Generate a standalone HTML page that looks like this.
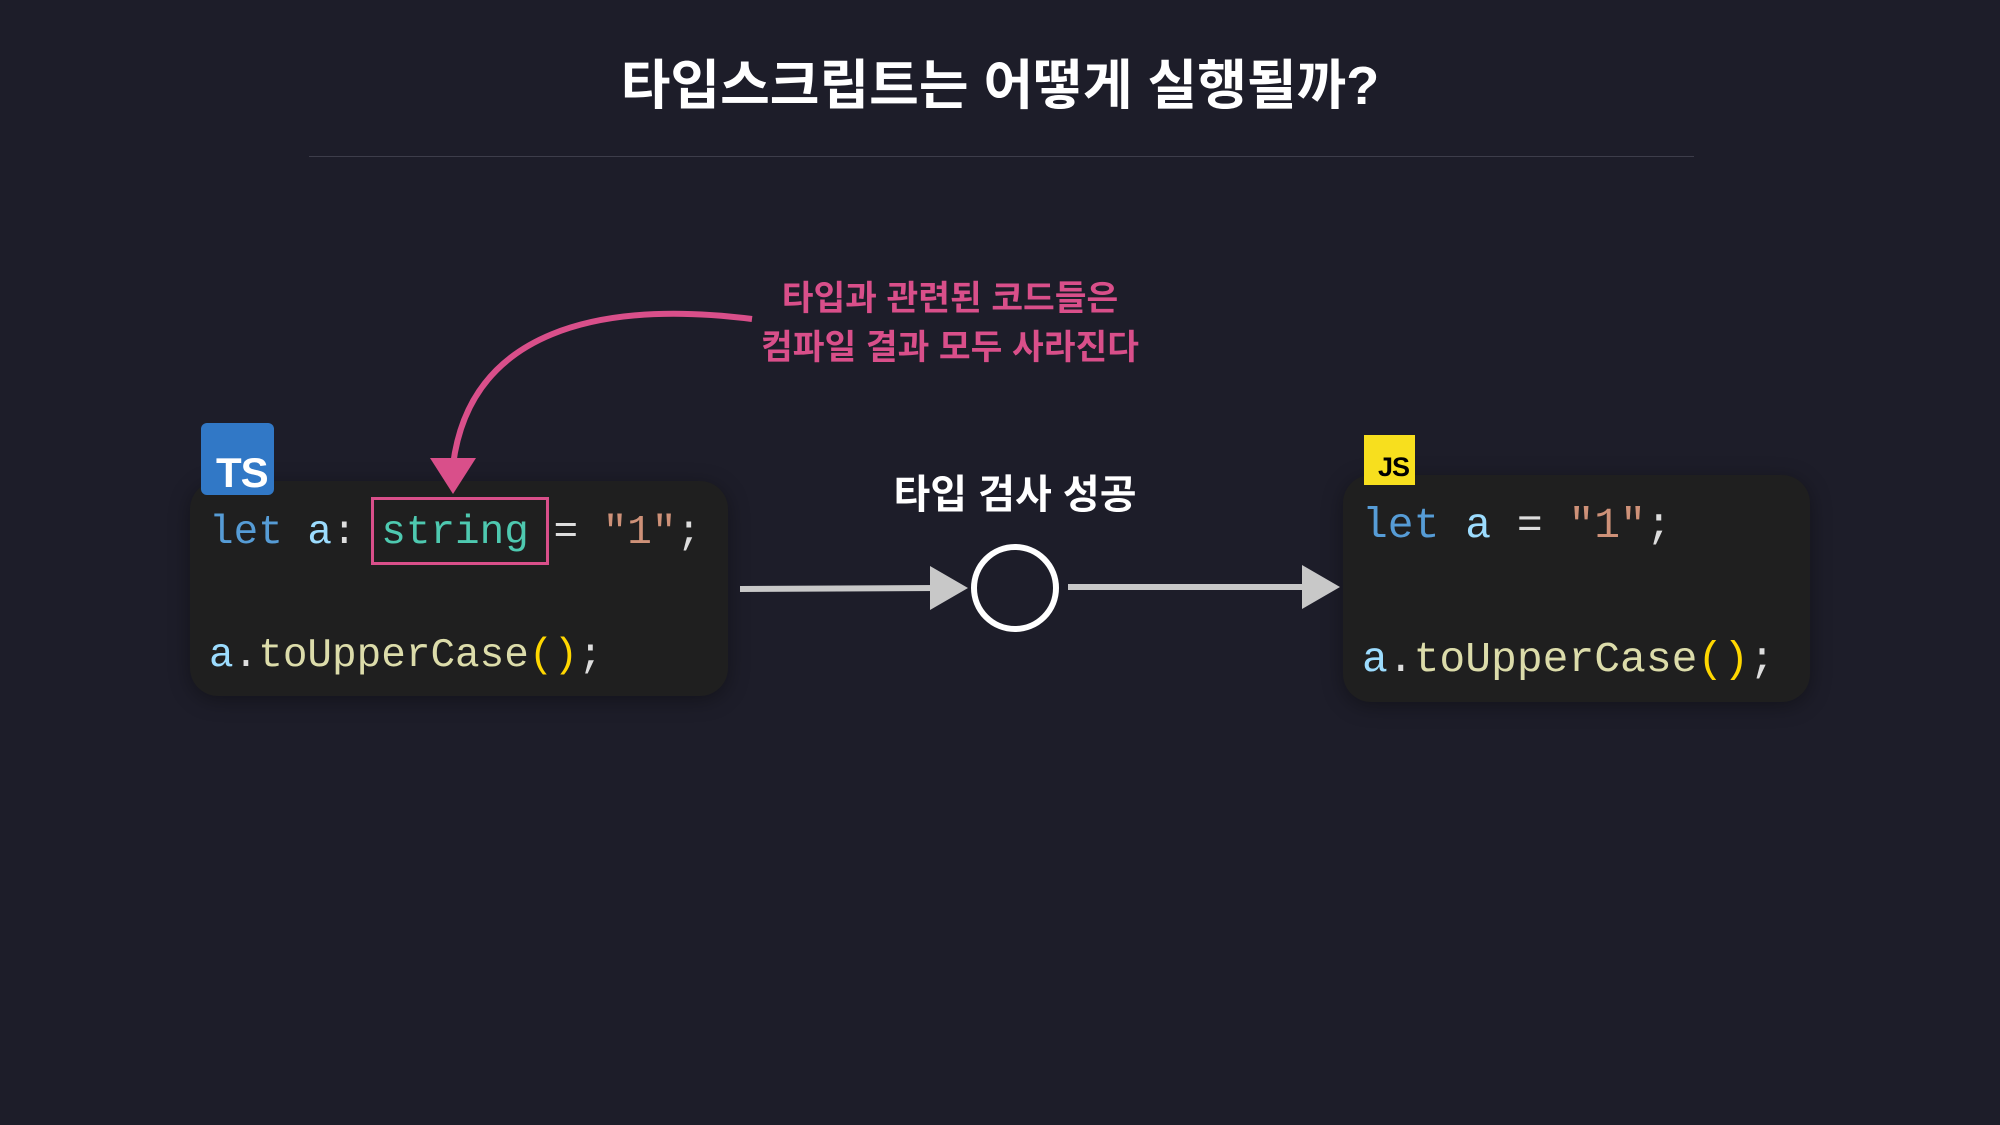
<!DOCTYPE html>
<html><head><meta charset="utf-8"><style>
body{margin:0;width:2000px;height:1125px;background:#1d1d29;overflow:hidden;position:relative;font-family:"Liberation Sans","Noto Sans CJK KR",sans-serif}
.abs{position:absolute}
.code{font-family:"Liberation Mono","DejaVu Sans Mono",monospace;white-space:pre;position:absolute}
.box{position:absolute;background:#1f1f1f;border-radius:28px;box-shadow:0 4px 20px rgba(0,0,0,.35)}
</style></head><body>
<div class="abs" style="left:0;width:2000px;top:41px;text-align:center;color:#fff;font-size:54px;font-weight:bold">타입스크립트는 어떻게 실행될까?</div>
<div class="abs" style="left:309px;width:1385px;top:156px;height:1px;background:#3d3d4a"></div>

<div class="abs" style="left:620px;width:660px;top:275px;text-align:center;color:#d94f8a;font-size:34.5px;font-weight:bold;line-height:49px">타입과 관련된 코드들은<br>컴파일 결과 모두 사라진다</div>

<div class="box" style="left:190px;top:481px;width:538px;height:215px"></div>
<div class="abs" style="left:201px;top:423px;width:73px;height:72px;background:#3178c6;border-radius:6px"></div>
<div class="abs" style="left:216px;top:449px;color:#fff;font-size:42px;font-weight:bold;letter-spacing:-1px">TS</div>
<div class="code" style="left:209px;top:505px;font-size:41px;line-height:56px"><span style="color:#569cd6">let</span> <span style="color:#9cdcfe">a</span><span style="color:#ddd">:</span> <span style="color:#4ec9b0">string</span> <span style="color:#ddd">=</span> <span style="color:#ce9178">"1"</span><span style="color:#ddd">;</span></div>
<div class="code" style="left:209px;top:628px;font-size:41px;line-height:56px"><span style="color:#9cdcfe">a</span><span style="color:#ddd">.</span><span style="color:#dcdcaa">toUpperCase</span><span style="color:#ffd700">()</span><span style="color:#ddd">;</span></div>
<div class="abs" style="left:371px;top:497px;width:172px;height:62px;border:3px solid #d94f8a"></div>

<div class="box" style="left:1343px;top:475px;width:467px;height:227px"></div>
<div class="abs" style="left:1364px;top:435px;width:51px;height:50px;background:#f7df1e"></div>
<div class="abs" style="left:1378px;top:452px;color:#000;font-size:27px;font-weight:bold;letter-spacing:-1px">JS</div>
<div class="code" style="left:1362px;top:496px;font-size:43px;line-height:60px"><span style="color:#569cd6">let</span> <span style="color:#9cdcfe">a</span> <span style="color:#ddd">=</span> <span style="color:#ce9178">"1"</span><span style="color:#ddd">;</span></div>
<div class="code" style="left:1362px;top:630px;font-size:43px;line-height:60px"><span style="color:#9cdcfe">a</span><span style="color:#ddd">.</span><span style="color:#dcdcaa">toUpperCase</span><span style="color:#ffd700">()</span><span style="color:#ddd">;</span></div>

<div class="abs" style="left:790px;width:450px;top:462px;text-align:center;color:#fff;font-size:40px;font-weight:bold">타입 검사 성공</div>

<svg class="abs" style="left:0;top:0" width="2000" height="1125">
<g stroke="#c8c8c8" stroke-width="6" fill="none">
<line x1="740" y1="589" x2="938" y2="588"/>
<line x1="1068" y1="587" x2="1312" y2="587"/>
</g>
<polygon points="930,566 968,588 930,610" fill="#c8c8c8"/>
<polygon points="1302,565 1340,587 1302,609" fill="#c8c8c8"/>
<circle cx="1015" cy="588" r="41" stroke="#fff" stroke-width="6" fill="none"/>
<path d="M752,319 C 600,300 470,330 453,465" stroke="#d94f8a" stroke-width="6" fill="none"/>
<polygon points="430,458 476,458 453,494" fill="#d94f8a"/>
</svg>
</body></html>
